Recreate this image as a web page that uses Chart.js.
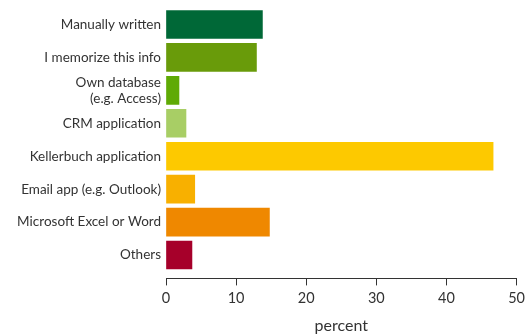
<!DOCTYPE html>
<html lang="en">
<head>
    <meta charset="UTF-8">
    <script src="https://cdn.jsdelivr.net/npm/chart.js"></script>
    <title>Where the data is kept</title>
    <style>
        body { margin: 0; background: #fff; }
        #wrap { width: 529px; height: 335px; }
    </style>
</head>
<body>
    <div id="wrap"><canvas id="grafico"></canvas></div>

    <script>
        // categories, top to bottom (arrays = multi-line labels)
        const categorias = [
            'Manually written',
            'I memorize this info',
            ['Own database', '(e.g. Access)'],
            'CRM application',
            'Kellerbuch application',
            'Email app (e.g. Outlook)',
            'Microsoft Excel or Word',
            'Others'
        ];
        // share of answers, percent
        const percentuais = [13.75, 12.9, 1.85, 2.85, 46.65, 4.1, 14.75, 3.7];
        const ticksX = [0, 10, 20, 30, 40, 50];

        const cores = ['#006837', '#699B0A', '#5FAA05', '#A8CE65', '#FDC900', '#F8B000', '#EF8800', '#A6002A'];
        const texto = '#333333';
        const fonte = 'Lato, "DejaVu Sans", sans-serif';

        const ctx = document.getElementById('grafico').getContext('2d');
        new Chart(ctx, {
            type: 'bar',
            data: {
                datasets: [{
                    data: percentuais.map((v, i) => ({ x: v, y: i })),
                    backgroundColor: cores,
                    borderWidth: 0,
                    barThickness: 28
                }]
            },
            options: {
                indexAxis: 'y',
                responsive: true,
                maintainAspectRatio: false,
                animation: false,
                layout: { padding: { top: 8, right: 10, bottom: 0, left: 0 } },
                plugins: { legend: { display: false }, tooltip: { enabled: false } },
                scales: {
                    y: {
                        type: 'linear',
                        offset: false,
                        reverse: true,
                        // half a row above, a little extra gap under the last row
                        min: -0.5,
                        max: 7.71,
                        afterBuildTicks: s => { s.ticks = categorias.map((c, i) => ({ value: i })); },
                        // fixed label column; labels sit inside the range, so no edge padding
                        afterFit: s => { s.width = 166; s.paddingTop = 0; s.paddingBottom = 0; },
                        grid: { display: false, drawTicks: false },
                        border: { display: false },
                        ticks: {
                            autoSkip: false,
                            padding: 5,
                            color: texto,
                            font: { family: fonte, size: 13.5, lineHeight: 1.2 },
                            callback: v => categorias[v]
                        }
                    },
                    x: {
                        min: 0,
                        max: 50,
                        afterBuildTicks: s => { s.ticks = ticksX.map(v => ({ value: v })); },
                        grid: { display: true, drawOnChartArea: false, tickLength: 7, color: texto },
                        border: { display: true, color: texto, width: 1 },
                        ticks: { color: texto, padding: 4, font: { family: fonte, size: 14.5 } },
                        title: {
                            display: true,
                            text: 'percent',
                            color: texto,
                            font: { family: fonte, size: 16 },
                            padding: { top: 5, bottom: 0 }
                        }
                    }
                }
            }
        });
    </script>
</body>
</html>
